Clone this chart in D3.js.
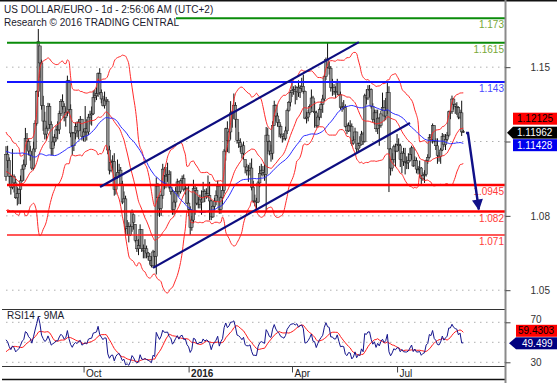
<!DOCTYPE html>
<html><head><meta charset="utf-8">
<script src="https://cdn.jsdelivr.net/npm/d3@7"></script>
<style>
html,body{margin:0;padding:0;background:#fff;}
svg{display:block;font-family:"Liberation Sans",Arial,sans-serif;}
</style></head><body>
<svg id="c" width="557" height="383"></svg>
<script>
// ---------- DATA ----------
const startDate = "2015-07-27";
const holidays = ["2015-12-25", "2016-01-01"];
// closes before the first visible bar (indicator history, 18 May - 24 Jul 2015)
const warmupCloses = [
1.1315,1.1145,1.1095,1.1110,1.1015,1.0975,1.0875,1.0895,1.0930,1.0985,
1.0925,1.1150,1.1245,1.1240,1.1115,1.1290,1.1285,1.1315,1.1250,1.1265,
1.1285,1.1245,1.1330,1.1365,1.1345,1.1340,1.1165,1.1200,1.1195,1.1165,
1.1235,1.1150,1.1055,1.1085,1.1110,1.1060,1.1010,1.1080,1.1040,1.1160,
1.1005,1.1005,1.0955,1.0880,1.0830,1.0830,1.0935,1.0930,1.0980,1.0985];
const highs = [
1.1128,1.1130,1.1075,1.0990,1.1115, 1.0995,1.0975,1.0935,1.0930,1.0990,
1.1040,1.1065,1.1214,1.1190,1.1160, 1.1130,1.1105,1.1150,1.1250,1.1390,
1.1714,1.1600,1.1535,1.1365,1.1290, 1.1225,1.1332,1.1330,1.1245,1.1175,
1.1185,1.1225,1.1245,1.1295,1.1350, 1.1372,1.1330,1.1310,1.1460,1.1440,
1.1325,1.1195,1.1195,1.1240,1.1245, 1.1255,1.1270,1.1255,1.1210,1.1317,
1.1255,1.1280,1.1295,1.1315,1.1390, 1.1395,1.1405,1.1475,1.1495,1.1395,
1.1365,1.1385,1.1360,1.1350,1.1130, 1.1065,1.1085,1.1095,1.1000,1.1065,
1.1045,1.1030,1.0965,1.0915,1.0895, 1.0780,1.0770,1.0760,1.0830,1.0805,
1.0760,1.0705,1.0690,1.0760,1.0735, 1.0665,1.0690,1.0660,1.0630,1.0625,
1.0610,1.0640,1.0635,1.0981,1.0955, 1.0885,1.0905,1.1045,1.1030,1.1030,
1.1050,1.1015,1.1010,1.0925,1.0875, 1.0935,1.0975,1.0965,1.0970,
1.0990,1.0995,1.0945,1.0935,
1.0945,1.0845,1.0800,1.0970,1.0945, 1.0935,1.0890,1.0900,1.0920,1.0960,
1.0925,1.0930,1.0990,1.0960,1.0875, 1.0850,1.0885,1.0920,1.0965,1.0945,
1.0895,1.0945,1.1115,1.1215,1.1245, 1.1200,1.1340,1.1295,1.1376,1.1335,
1.1255,1.1195,1.1165,1.1140,1.1150, 1.1065,1.1045,1.1040,1.1050,1.1070,
1.0965,1.0900,1.0885,1.0965,1.1035, 1.1045,1.1035,1.1045,1.1218,1.1215,
1.1155,1.1135,1.1245,1.1342,1.1325, 1.1285,1.1255,1.1230,1.1185,1.1190,
1.1220,1.1305,1.1340,1.1385,1.1440, 1.1410,1.1415,1.1410,1.1438,1.1415,
1.1450,1.1465,1.1390,1.1290,1.1300, 1.1325,1.1395,1.1365,1.1340,1.1295,
1.1275,1.1310,1.1340,1.1370,1.1465, 1.1545,1.1616,1.1525,1.1505,1.1445,
1.1420,1.1410,1.1445,1.1435,1.1385, 1.1335,1.1345,1.1325,1.1235,1.1240,
1.1250,1.1235,1.1175,1.1215,1.1195, 1.1145,1.1175,1.1200,1.1195,1.1375,
1.1395,1.1415,1.1416,1.1400,1.1330, 1.1300,1.1300,1.1300,1.1265,1.1295,
1.1380,1.1345,1.1355,1.1428,1.1410, 1.1120,1.1095,1.1135,1.1140,1.1185,
1.1165,1.1140,1.1105,1.1120,1.1120, 1.1080,1.1095,1.1120,1.1130,1.1120,
1.1080,1.1075,1.1035,1.1060,1.1030, 1.1005,1.1015,1.1065,1.1090,1.1185,
1.1185,1.1235,1.1225,1.1165,1.1165, 1.1100,1.1120,1.1190,1.1185,1.1185,
1.1195,1.1295,1.1300,1.1366,1.1355, 1.1330,1.1335,1.1315,1.1300,1.1342,
1.1205];
const lows = [
1.0965,1.1025,1.0950,1.0900,1.0925, 1.0910,1.0880,1.0849,1.0855,1.0855,
1.0960,1.0965,1.1030,1.1110,1.1085, 1.1060,1.1015,1.1015,1.1100,1.1225,
1.1360,1.1450,1.1300,1.1200,1.1160, 1.1155,1.1200,1.1210,1.1085,1.1085,
1.1130,1.1150,1.1160,1.1185,1.1270, 1.1300,1.1245,1.1220,1.1270,1.1280,
1.1170,1.1085,1.1105,1.1160,1.1170, 1.1160,1.1200,1.1155,1.1150,1.1150,
1.1155,1.1180,1.1230,1.1225,1.1275, 1.1335,1.1345,1.1360,1.1370,1.1330,
1.1315,1.1305,1.1325,1.1090,1.0995, 1.1005,1.1015,1.0895,1.0900,1.0975,
1.0985,1.0945,1.0855,1.0865,1.0705, 1.0710,1.0675,1.0705,1.0725,1.0735,
1.0675,1.0630,1.0615,1.0650,1.0630, 1.0600,1.0600,1.0600,1.0590,1.0570,
1.0557,1.0555,1.0555,1.0524,1.0800, 1.0795,1.0800,1.0880,1.0925,1.0930,
1.0960,1.0925,1.0900,1.0805,1.0805, 1.0840,1.0900,1.0890,1.0905,
1.0945,1.0915,1.0900,1.0855,
1.0800,1.0710,1.0730,1.0765,1.0805, 1.0850,1.0835,1.0835,1.0805,1.0865,
1.0865,1.0880,1.0885,1.0780,1.0780, 1.0790,1.0825,1.0850,1.0885,1.0810,
1.0810,1.0850,1.0905,1.1060,1.1100, 1.1095,1.1160,1.1215,1.1255,1.1215,
1.1140,1.1120,1.1100,1.1070,1.1065, 1.1000,1.0990,1.0960,1.0990,1.0920,
1.0860,1.0845,1.0830,1.0860,1.0935, 1.0990,1.0985,1.0965,1.0822,1.1090,
1.1085,1.1055,1.1065,1.1225,1.1245, 1.1220,1.1170,1.1165,1.1145,1.1155,
1.1155,1.1185,1.1290,1.1315,1.1360, 1.1370,1.1325,1.1345,1.1360,1.1355,
1.1385,1.1375,1.1255,1.1235,1.1245, 1.1275,1.1305,1.1290,1.1215,1.1215,
1.1215,1.1250,1.1260,1.1285,1.1340, 1.1440,1.1495,1.1465,1.1385,1.1365,
1.1370,1.1355,1.1370,1.1365,1.1300, 1.1290,1.1300,1.1215,1.1185,1.1195,
1.1195,1.1130,1.1135,1.1160,1.1100, 1.1100,1.1120,1.1135,1.1135,1.1145,
1.1325,1.1345,1.1360,1.1305,1.1240, 1.1230,1.1195,1.1185,1.1130,1.1215,
1.1295,1.1245,1.1250,1.1280,1.0912, 1.0990,1.1010,1.1050,1.1030,1.1100,
1.1105,1.1030,1.1000,1.1035,1.0995, 1.1020,1.1020,1.1055,1.1065,1.1030,
1.1035,1.1000,1.0995,1.0980,1.0950, 1.0965,1.0955,1.0985,1.1045,1.1070,
1.1145,1.1140,1.1145,1.1110,1.1045, 1.1055,1.1045,1.1105,1.1125,1.1110,
1.1150,1.1170,1.1255,1.1280,1.1300, 1.1280,1.1275,1.1255,1.1255,1.1176,
1.1190];
const closes = [
1.1090,1.1060,1.0985,1.0935,1.0985, 1.0955,1.0885,1.0905,1.0925,1.0965,
1.1020,1.1040,1.1165,1.1150,1.1105, 1.1085,1.1025,1.1115,1.1236,1.1385,
1.1620,1.1520,1.1319,1.1246,1.1185, 1.1213,1.1315,1.1230,1.1118,1.1148,
1.1168,1.1205,1.1206,1.1282,1.1339, 1.1314,1.1262,1.1288,1.1436,1.1300,
1.1190,1.1130,1.1190,1.1220,1.1200, 1.1240,1.1255,1.1175,1.1195,1.1210,
1.1195,1.1265,1.1275,1.1280,1.1357, 1.1365,1.1375,1.1470,1.1380,1.1350,
1.1320,1.1345,1.1340,1.1110,1.1015, 1.1050,1.1055,1.0925,1.0980,1.1005,
1.1015,1.0950,1.0865,1.0880,1.0740, 1.0750,1.0710,1.0750,1.0815,1.0770,
1.0685,1.0645,1.0660,1.0735,1.0645, 1.0635,1.0645,1.0625,1.0610,1.0590,
1.0565,1.0630,1.0610,1.0940,1.0885, 1.0835,1.0895,1.1020,1.0990,1.0990,
1.0995,1.0935,1.0915,1.0830,1.0865, 1.0915,1.0960,1.0915,1.0965,
1.0975,1.0925,1.0930,1.0860,
1.0830,1.0745,1.0780,1.0930,1.0920, 1.0860,1.0855,1.0875,1.0865,1.0915,
1.0890,1.0905,1.0895,1.0870,1.0795, 1.0845,1.0870,1.0895,1.0940,1.0830,
1.0885,1.0920,1.1105,1.1210,1.1155, 1.1195,1.1285,1.1290,1.1320,1.1255,
1.1155,1.1145,1.1125,1.1095,1.1130, 1.1030,1.1015,1.1015,1.1025,1.0935,
1.0870,1.0870,1.0865,1.0955,1.1000, 1.1015,1.1005,1.0995,1.1180,1.1150,
1.1105,1.1095,1.1225,1.1320,1.1270, 1.1240,1.1220,1.1185,1.1175,1.1165,
1.1200,1.1295,1.1335,1.1380,1.1390, 1.1395,1.1385,1.1405,1.1380,1.1400,
1.1410,1.1385,1.1260,1.1265,1.1285, 1.1315,1.1355,1.1290,1.1285,1.1225,
1.1265,1.1300,1.1325,1.1350,1.1455, 1.1535,1.1500,1.1495,1.1405,1.1405,
1.1385,1.1385,1.1430,1.1370,1.1310, 1.1315,1.1310,1.1220,1.1200,1.1225,
1.1220,1.1140,1.1155,1.1195,1.1115, 1.1140,1.1130,1.1185,1.1150,1.1365,
1.1355,1.1395,1.1395,1.1315,1.1255, 1.1285,1.1210,1.1260,1.1225,1.1280,
1.1310,1.1270,1.1295,1.1380,1.1115, 1.1025,1.1065,1.1125,1.1105,1.1135,
1.1130,1.1065,1.1095,1.1055,1.1050, 1.1050,1.1060,1.1090,1.1120,1.1035,
1.1060,1.1020,1.1020,1.1025,1.0975, 1.0990,1.0995,1.1060,1.1075,1.1170,
1.1160,1.1225,1.1150,1.1130,1.1085, 1.1080,1.1110,1.1175,1.1135,1.1160,
1.1180,1.1290,1.1290,1.1350,1.1325, 1.1315,1.1310,1.1265,1.1285,1.1195,
1.1196];

const levels = [1.173, 1.1615, 1.143, 1.0945, 1.082, 1.071];
const levelLabels = ["1.173", "1.1615", "1.143", "1.0945", "1.082", "1.071"];
const levelColors = ["#0a8c0a", "#0a8c0a", "#1414ff", "#ff0000", "#ff0000", "#ff2020"];
const levelTextColors = ["#78a838", "#78a838", "#4a4aff", "#ff3a3a", "#ff3a3a", "#ff3a3a"];
const levelWidths = [2, 2, 2, 2.5, 2.5, 1.6];
const priceTicks = [1.045, 1.08, 1.115, 1.15];
const priceTickLabels = ["1.05", "1.08", "", "1.15"];
const rsiTicks = [30, 70];
const rsiGrid = [30, 50, 70];
const monthTickDates = ["2015-10-01", "2016-01-04", "2016-04-01", "2016-07-01"];
const monthTickLabels = ["Oct", "2016", "Apr", "Jul"];
const priceTagValues = [1.12125, 1.11962, 1.11428];
const priceTagLabels = ["1.12125", "1.11962", "1.11428"];
const rsiTagValues = [59.4303, 49.499];
const rsiTagLabels = ["59.4303", "49.499"];
// annotations in (bar index, price)
const channelUpper = [[58.2, 1.0936], [218.4, 1.1618]];
const channelLower = [[91, 1.0555], [250, 1.1237]];
const forecastArrow = [[284.7, 1.1190], [285.9, 1.1190], [292.6, 1.0830]];
const titleLines = ["US DOLLAR/EURO - 1d - 2:56:06 AM (UTC+2)", "Research \u00A9 2016 TRADING CENTRAL"];

// ---------- DERIVED ----------
const dates = [];
{
  let d = new Date(startDate + "T00:00:00Z");
  while (dates.length < closes.length) {
    const dow = d.getUTCDay(), s = d.toISOString().slice(0, 10);
    if (dow !== 0 && dow !== 6 && !holidays.includes(s)) dates.push(s);
    d = new Date(d.getTime() + 86400000);
  }
}
const all = warmupCloses.concat(closes);
const W0 = warmupCloses.length;
const bars = closes.map((c, i) => {
  const prev = i === 0 ? warmupCloses[W0 - 1] : closes[i - 1];
  const o = Math.max(lows[i], Math.min(highs[i], prev));
  return {i, o, h: highs[i], l: lows[i], c};
});
const mean = a => a.reduce((s, v) => s + v, 0) / a.length;
const bbMid = [], bbUp = [], bbLo = [], ma50 = [];
closes.forEach((c, i) => {
  const j = i + W0;
  const w = all.slice(j - 19, j + 1), m = mean(w);
  const sd = Math.sqrt(mean(w.map(v => (v - m) * (v - m))));
  bbMid.push([i, m]); bbUp.push([i, m + 2 * sd]); bbLo.push([i, m - 2 * sd]);
  ma50.push([i, mean(all.slice(j - 49, j + 1))]);
});
// RSI 14 (Wilder) + 9 MA
const rsiAll = new Array(all.length).fill(null);
{
  let g = 0, l = 0;
  for (let k = 1; k <= 14; k++) { const ch = all[k] - all[k - 1]; if (ch > 0) g += ch; else l -= ch; }
  g /= 14; l /= 14;
  rsiAll[14] = 100 - 100 / (1 + g / l);
  for (let k = 15; k < all.length; k++) {
    const ch = all[k] - all[k - 1];
    g = (g * 13 + Math.max(ch, 0)) / 14;
    l = (l * 13 + Math.max(-ch, 0)) / 14;
    rsiAll[k] = 100 - 100 / (1 + g / l);
  }
}
const rsi = closes.map((c, i) => [i, rsiAll[i + W0]]);
const rsiMa = closes.map((c, i) => [i, mean(rsiAll.slice(i + W0 - 8, i + W0 + 1))]);

// ---------- LAYOUT ----------
const svg = d3.select("#c");
const axisX = 505.5;
const xs = d3.scaleLinear().domain([0, closes.length - 1]).range([6, 463.3]);
const ys = d3.scaleLinear().domain([1.045, 1.173]).range([290.2, 18.3]);
const yr = d3.scaleLinear().domain([30, 70]).range([362.3, 322.3]);
const priceTop = 1, priceBot = 309, rsiTop = 309, rsiBot = 366;

const defs = svg.append("defs");
defs.append("clipPath").attr("id", "cp").append("rect").attr("x", 0).attr("y", priceTop).attr("width", axisX).attr("height", priceBot - priceTop);
defs.append("clipPath").attr("id", "cr").append("rect").attr("x", 0).attr("y", rsiTop).attr("width", axisX).attr("height", rsiBot - rsiTop);

// gridlines
svg.append("g").selectAll("line").data(priceTicks).join("line")
  .attr("x1", 6).attr("x2", axisX).attr("y1", d => ys(d)).attr("y2", d => ys(d))
  .attr("stroke", "#b0b0b0").attr("stroke-dasharray", "1.5,4.5");
svg.append("g").selectAll("line").data(rsiGrid).join("line")
  .attr("x1", 6).attr("x2", axisX).attr("y1", d => yr(d)).attr("y2", d => yr(d))
  .attr("stroke", "#b0b0b0").attr("stroke-dasharray", "1.5,4.5");

const price = svg.append("g").attr("clip-path", "url(#cp)");
// candles
const cg = price.append("g");
cg.selectAll("line").data(bars).join("line")
  .attr("x1", d => xs(d.i)).attr("x2", d => xs(d.i))
  .attr("y1", d => ys(d.h)).attr("y2", d => ys(d.l))
  .attr("stroke", "#111").attr("stroke-width", 1);
cg.selectAll("rect").data(bars).join("rect")
  .attr("x", d => xs(d.i) - 1.3).attr("width", 2.6)
  .attr("y", d => ys(Math.max(d.o, d.c)))
  .attr("height", d => Math.max(0.8, Math.abs(ys(d.o) - ys(d.c))))
  .attr("fill", "#929292").attr("stroke", "#1a1a1a").attr("stroke-width", 0.5);

const line = d3.line().x(d => xs(d[0])).y(d => ys(d[1])).curve(d3.curveMonotoneX);
[[bbUp, "#ff2a2a"], [bbLo, "#ff2a2a"], [bbMid, "#ff2a2a"], [ma50, "#2a2aff"]].forEach(([s, col]) => {
  price.append("path").datum(s).attr("d", line).attr("fill", "none").attr("stroke", col).attr("stroke-width", 1);
});

// levels
levels.forEach((v, k) => {
  price.append("line").attr("x1", 7).attr("x2", axisX).attr("y1", ys(v)).attr("y2", ys(v))
    .attr("stroke", levelColors[k]).attr("stroke-width", levelWidths[k]);
});
// channel
const lineP = d3.line().x(d => xs(d[0])).y(d => ys(d[1]));
[channelUpper, channelLower].forEach(s => {
  price.append("path").datum(s).attr("d", lineP).attr("fill", "none").attr("stroke", "#0d0d80").attr("stroke-width", 2.2);
});
// level labels
levels.forEach((v, k) => {
  svg.append("text").attr("x", 504).attr("y", ys(v) + 10).attr("text-anchor", "end")
    .attr("font-size", 10).attr("fill", levelTextColors[k]).text(levelLabels[k]);
});
// forecast arrow
defs.append("marker").attr("id", "ah").attr("viewBox", "0 0 10 10").attr("refX", 9).attr("refY", 5)
  .attr("markerWidth", 5.6).attr("markerHeight", 4.6).attr("markerUnits", "strokeWidth").attr("orient", "auto")
  .append("path").attr("d", "M0,0 L10,5 L0,10 z").attr("fill", "#101088");
svg.append("path").datum(forecastArrow).attr("d", lineP).attr("fill", "none")
  .attr("stroke", "#101088").attr("stroke-width", 2.4).attr("marker-end", "url(#ah)");

// title box
svg.append("rect").attr("x", 0).attr("y", 1).attr("width", 176).attr("height", 28).attr("fill", "#fff");
titleLines.forEach((t, k) => {
  svg.append("text").attr("x", 4).attr("y", 13 + k * 13).attr("font-size", 10).attr("fill", "#1a1a2e").text(t);
});

// RSI panel
const rg = svg.append("g").attr("clip-path", "url(#cr)");
const lineR = d3.line().x(d => xs(d[0])).y(d => yr(d[1]));
rg.append("path").datum(rsiMa).attr("d", lineR).attr("fill", "none").attr("stroke", "#ff1a1a").attr("stroke-width", 1);
rg.append("path").datum(rsi).attr("d", lineR).attr("fill", "none").attr("stroke", "#14148c").attr("stroke-width", 1);
svg.append("text").attr("x", 7).attr("y", 319).attr("font-size", 10).attr("fill", "#1a1a2e").text("RSI14 - 9MA");

// frame lines
svg.append("line").attr("x1", 0).attr("x2", 557).attr("y1", 0.75).attr("y2", 0.75).attr("stroke", "#111").attr("stroke-width", 1.5);
[rsiTop, rsiBot].forEach(y => svg.append("line").attr("x1", 2).attr("x2", axisX).attr("y1", y + 0.5).attr("y2", y + 0.5).attr("stroke", "#333").attr("stroke-width", 1));
svg.append("line").attr("x1", 2).attr("x2", axisX).attr("y1", 379.5).attr("y2", 379.5).attr("stroke", "#111").attr("stroke-width", 1.5);
svg.append("line").attr("x1", axisX).attr("x2", axisX).attr("y1", 0).attr("y2", 383).attr("stroke", "#8a8a8a").attr("stroke-width", 2);

// axes
const styleAxis = g => {
  g.select(".domain").remove();
  g.selectAll(".tick line").attr("stroke", "#444");
  g.selectAll(".tick text").attr("fill", "#333").attr("font-size", 10).attr("font-family", "Liberation Sans, Arial, sans-serif");
};
svg.append("g").attr("transform", `translate(${axisX},0)`)
  .call(d3.axisRight(ys).tickValues(priceTicks).tickFormat((d, i) => priceTickLabels[i]).tickSize(5).tickPadding(20))
  .call(styleAxis);
const ra = svg.append("g").attr("transform", `translate(${axisX},0)`)
  .call(d3.axisRight(yr).tickValues(rsiTicks).tickFormat(d => String(d)).tickSize(5).tickPadding(20))
  .call(styleAxis);
ra.selectAll(".tick text").attr("dy", d => d === 70 ? "0.05em" : "0.32em");
const monthIdx = monthTickDates.map(s => dates.indexOf(s));
const xa = svg.append("g").attr("transform", `translate(0,${rsiBot + 0.5})`)
  .call(d3.axisBottom(xs).tickValues(monthIdx).tickFormat((d, i) => monthTickLabels[i]).tickSize(6))
  .call(styleAxis);
xa.selectAll(".tick text").attr("text-anchor", "start").attr("x", 2).attr("y", 3.5)
  .attr("font-weight", (d, i) => monthTickLabels[i] === "2016" ? "bold" : "normal").attr("fill", "#222");

// price tags
const tagX = 513, tagW = 44, tagH = 12;
const yBlack = ys(priceTagValues[1]) + 1;
const tagCenters = [yBlack - 14, yBlack, yBlack + 12.5];
const tagFill = ["#ff0000", "#000000", "#0000ee"];
const tagText = ["#000", "#fff", "#fff"];
priceTagValues.forEach((v, k) => {
  const cy = tagCenters[k];
  svg.append("rect").attr("x", tagX).attr("y", cy - tagH / 2).attr("width", tagW).attr("height", tagH).attr("fill", tagFill[k]);
  if (k === 1) svg.append("path").attr("d", `M${tagX - 6},${cy} L${tagX},${cy - tagH / 2} L${tagX},${cy + tagH / 2} Z`).attr("fill", "#000");
  svg.append("text").attr("x", tagX + 4).attr("y", cy + 3.6).attr("font-size", 10).attr("fill", tagText[k]).text(priceTagLabels[k]);
});
// rsi tags
const rBlue = yr(rsiTagValues[1]) + 0.5;
const rCenters = [rBlue - 12.5, rBlue];
const rFill = ["#ff0000", "#000080"], rText = ["#000", "#fff"];
rsiTagValues.forEach((v, k) => {
  const cy = rCenters[k];
  svg.append("rect").attr("x", 516).attr("y", cy - 6).attr("width", 41).attr("height", 12).attr("fill", rFill[k]);
  if (k === 1) svg.append("path").attr("d", `M509,${cy} L516,${cy - 6} L516,${cy + 6} Z`).attr("fill", "#000080");
  svg.append("text").attr("x", k === 0 ? 518 : 522).attr("y", cy + 3.6).attr("font-size", 10).attr("fill", rText[k]).text(rsiTagLabels[k]);
});
</script>
</body></html>
